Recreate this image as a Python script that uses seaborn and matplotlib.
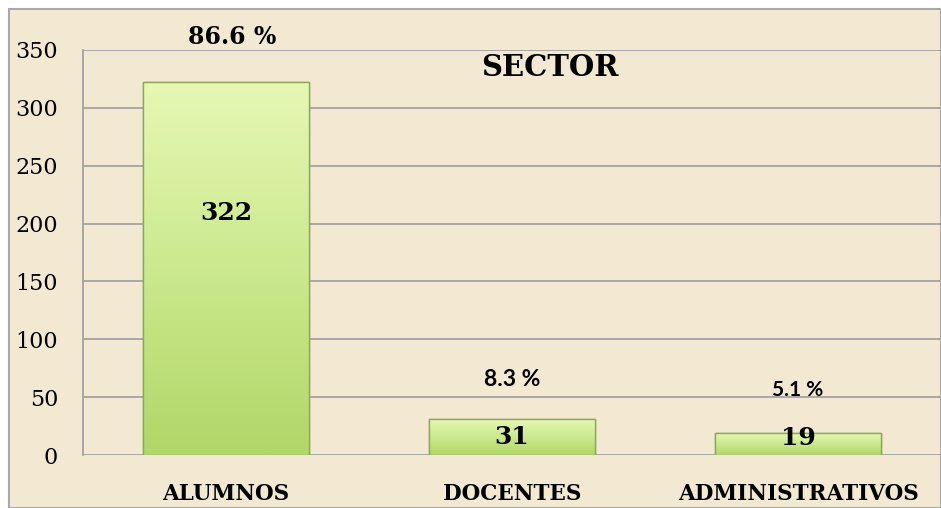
import numpy as np
import pandas as pd
import seaborn as sns
import matplotlib.pyplot as plt
from matplotlib.patches import Rectangle
from matplotlib.colors import LinearSegmentedColormap

# data
categories = ['ALUMNOS', 'DOCENTES', 'ADMINISTRATIVOS']
counts = [322, 31, 19]
percents = [86.6, 8.3, 5.1]
y_ticks = [0, 50, 100, 150, 200, 250, 300, 350]

df = pd.DataFrame({'sector': categories, 'n': counts})

sns.set_style('white')
plt.rcParams['font.family'] = ['DejaVu Serif']
plt.rcParams['text.color'] = 'black'
plt.rcParams['xtick.color'] = 'black'
plt.rcParams['ytick.color'] = 'black'

bg = '#F3E9D3'
grid = '#A3A3A3'

fig = plt.figure(figsize=(9.41, 5.08), dpi=100, facecolor='white')
# parchment frame
fig.patches.append(Rectangle((9 / 941, 0), 1 - 9 / 941, 1 - 9 / 508,
                             transform=fig.transFigure, facecolor=bg,
                             edgecolor='#A8A8A8', lw=1.5, zorder=-5))
ax = fig.add_axes([83 / 941, 1 - 455 / 508, (941 - 83) / 941, (455 - 50) / 508])
ax.set_facecolor('none')
ax.set_zorder(2)

sns.barplot(data=df, x='sector', y='n', color='#C8E68A', width=0.58,
            edgecolor='#8DA65C', linewidth=1.0, ax=ax, zorder=3)

# green gradient on each bar
cmap = LinearSegmentedColormap.from_list('g', ['#B2D668', '#CBE98E', '#E6F8B4'])
grad = np.linspace(0, 1, 256).reshape(-1, 1)
for p in list(ax.patches):
    x0, y0 = p.get_x(), p.get_y()
    w, h = p.get_width(), p.get_height()
    im = ax.imshow(grad, extent=[x0, x0 + w, y0, y0 + h], origin='lower',
                   cmap=cmap, aspect='auto', zorder=3.5)
    im.set_clip_path(p)
    ax.add_patch(Rectangle((x0, y0), w, h, fill=False, edgecolor='#8DA65C',
                           lw=1.0, zorder=4))

ax.set_xlim(-0.5, 2.5)
ax.set_ylim(0, 350)
ax.set_yticks(y_ticks)
ax.yaxis.grid(True, color=grid, lw=1.3)
ax.set_axisbelow(True)
for s in ['top', 'right', 'bottom']:
    ax.spines[s].set_visible(False)
ax.spines['left'].set_color(grid)
ax.spines['left'].set_linewidth(1.3)
ax.tick_params(length=0, labelsize=16, pad=18)
ax.tick_params(axis='x', pad=20)
for t in ax.get_xticklabels():
    t.set_fontweight('bold')
    t.set_fontsize(15.5)
ax.set_xlabel('')
ax.set_ylabel('')

# value labels inside bars
for i, v in enumerate(counts):
    yy = v * 0.65 if v > 100 else max(v / 2, 15)
    ax.text(i, yy, str(v), ha='center', va='center', fontsize=18,
            fontweight='bold', zorder=5)

# percentage labels
pct_y = [361, 65, 56]
pct_size = [17, 16.5, 15]
pct_dx = [0.02, 0.0, 0.0]
for i, p in enumerate(percents):
    fam = 'DejaVu Serif' if i == 0 else 'Lato'
    ax.text(i + pct_dx[i], pct_y[i], f'{p} %', ha='center', va='center',
            fontsize=pct_size[i], fontweight='bold', family=fam,
            clip_on=False, zorder=5)

fig.text(550 / 941, 1 - 68 / 508, 'SECTOR', ha='center', va='center',
         fontsize=21, fontweight='bold')

fig.savefig('out.png', dpi=100, facecolor=fig.get_facecolor())
